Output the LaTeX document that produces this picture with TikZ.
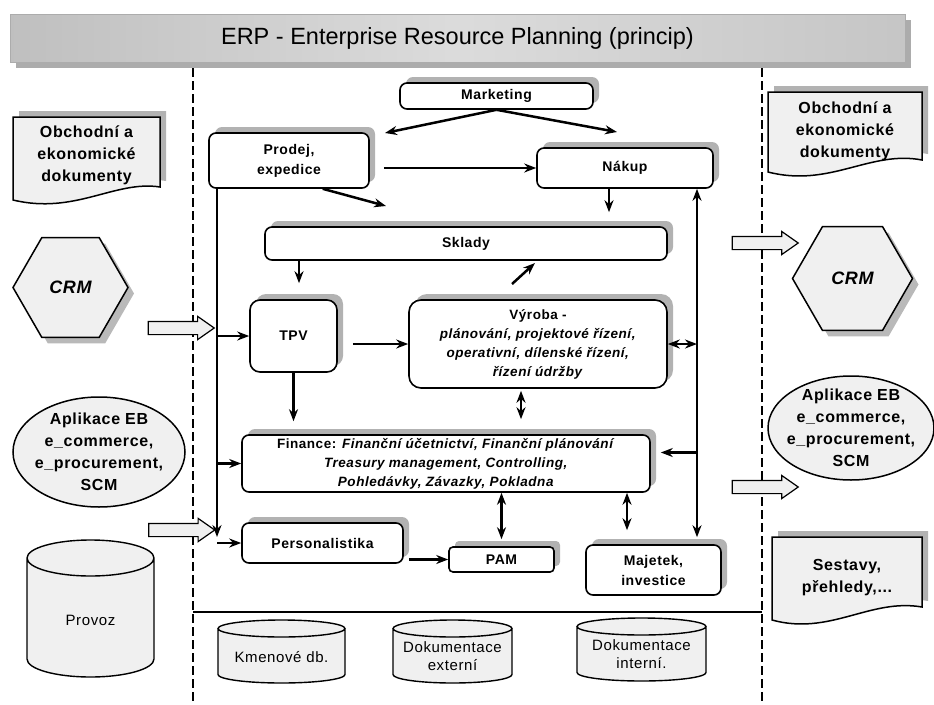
\documentclass[tikz,border=0pt]{standalone}
\usepackage{fontspec}
\setmainfont{Liberation Sans}[LetterSpace=4]
\newfontfamily\titlefont{Liberation Sans}
\usepackage{tikz}
\usetikzlibrary{arrows.meta,
                calc,
                shadows,
                shapes.arrows,
                shapes.geometric}

\tikzset{
  box/.style={draw, line width=1.6pt, rounded corners=7pt, fill=white,
    drop shadow={shadow xshift=6pt, shadow yshift=6pt, fill=gray!60, opacity=1},
    align=center, inner sep=2pt, font=\fontsize{14}{20}\selectfont\bfseries},
  itbox/.style={box, font=\fontsize{13.5}{19}\selectfont\bfseries},
  sidetext/.style={align=center, font=\fontsize{16}{22}\selectfont\bfseries},
  sidedoc/.style={draw, line width=1.5pt, fill=gray!12,
    drop shadow={shadow xshift=6pt, shadow yshift=6pt, fill=gray!60, opacity=1}},
  sideell/.style={ellipse, draw, line width=1.5pt, fill=gray!12, inner sep=0pt},
  hexa/.style={regular polygon, regular polygon sides=6,
    draw, line width=1.5pt, fill=gray!12, inner sep=0pt,
    drop shadow={shadow xshift=6pt, shadow yshift=-6pt, fill=gray!55, opacity=1},
    font=\fontsize{18}{20}\selectfont\bfseries\itshape},
  harrow/.style={single arrow, draw, line width=1.2pt, fill=gray!12, inner sep=0pt,
    text height=12pt, text depth=0pt, minimum height=66pt,
    single arrow head extend=5pt, single arrow tip angle=70},
  cylbody/.style={draw, line width=1.4pt, fill=gray!12},
  cyltext/.style={align=center, font=\fontsize{15}{18}\selectfont},
  arr/.style={-{Stealth[length=12pt,width=9pt]}, line width=2.5pt},
  dbl/.style={{Stealth[length=12pt,width=9pt]}-{Stealth[length=12pt,width=9pt]}, line width=2.5pt},
  sep/.style={line width=2.6pt, dash pattern=on 9pt off 4pt}
}

\begin{document}
\begin{tikzpicture}[x=1pt,y=-1pt]
\useasboundingbox (0,0) rectangle (934,704);

% title
\node[draw=gray!65, left color=gray!50, right color=gray!45, middle color=gray!28,
      drop shadow={shadow xshift=6pt, shadow yshift=-6pt, fill=gray!65, opacity=1},
      minimum width=895pt, minimum height=48pt,
      font=\titlefont\fontsize{23.5}{26}\selectfont] (title) at (457.5,38)
      {ERP - Enterprise Resource Planning (princip)};

% separators
\draw[sep] (193,68) -- (193,704);
\draw[sep] (762,68) -- (762,704);
\draw[line width=1.6pt] (193,612) -- (762,612);

% left side
\draw[sidedoc] (13,117) -- (160,117) -- (160,187)
  .. controls (115,180) and (75,215) .. (13,200) -- cycle;
\node[sidetext] (docL) at (86.5,155) {Obchodní a\\ekonomické\\dokumenty};
\node[hexa, minimum size=115pt] (crmL) at (70.5,287.5) {CRM};
\node[harrow] (inL1) at (176.5,328) {};
\node[sideell, minimum width=172pt, minimum height=110pt,
      label={[sidetext]center:{Aplikace EB\\e\_commerce,\\e\_procurement,\\SCM}}] (ebL) at (99,452) {};
\node[harrow] (inL2) at (177,530) {};

% right side
\draw[sidedoc] (768,92) -- (922,92) -- (922,160)
  .. controls (870,150) and (830,188) .. (768,172) -- cycle;
\node[sidetext] (docR) at (845,131.5) {Obchodní a\\ekonomické\\dokumenty};
\node[harrow] (outR1) at (760.5,243) {};
\node[hexa, minimum size=120pt] (crmR) at (852.5,278.5) {CRM};
\node[sideell, minimum width=166pt, minimum height=104pt,
      label={[sidetext]center:{Aplikace EB\\e\_commerce,\\e\_procurement,\\SCM}}] (ebR) at (851,428) {};
\node[harrow] (outR2) at (760.5,487) {};
\draw[sidedoc] (772,537) -- (922,537) -- (922,607)
  .. controls (870,598) and (830,636) .. (772,620) -- cycle;
\node[sidetext] (sestavy) at (847,578) {Sestavy,\\přehledy,...};

% databases
\foreach \cx/\tp/\bt/\r/\ry in {90.5/540/677/63.5/18, 281.5/620/683/63.5/8.5,
                                452.5/620/683/59.5/8.5, 641.5/618/681/64.5/8.5}
  \draw[cylbody] (\cx-\r,\tp+\ry) -- (\cx-\r,\bt-\ry)
    arc[start angle=180, end angle=360, x radius=\r pt, y radius=\ry pt]
    -- (\cx+\r,\tp+\ry)
    arc[start angle=0, end angle=180, x radius=\r pt, y radius=\ry pt] -- cycle
    (\cx,\tp+\ry) ellipse[x radius=\r pt, y radius=\ry pt];
\node[cyltext] (provoz) at (90.5,620) {Provoz};
\node[cyltext] (kmen) at (281.5,657) {Kmenové db.};
\node[cyltext] (dokext) at (452.5,656) {Dokumentace\\externí};
\node[cyltext] (dokint) at (641.5,654) {Dokumentace\\interní.};

% ERP modules
\node[box, minimum width=193pt, minimum height=26pt] (mkt) at (496.5,96) {Marketing};
\node[box, minimum width=160pt, minimum height=55pt] (prodej) at (289,160.5) {Prodej,\\expedice};
\node[box, minimum width=176pt, minimum height=40pt] (nakup) at (625,168) {Nákup};
\node[box, minimum width=402pt, minimum height=33pt] (sklady) at (466,243.5) {Sklady};
\node[box, rounded corners=10pt, minimum width=87pt, minimum height=72pt] (tpv) at (293.5,336) {TPV};
\node[itbox, rounded corners=12pt, minimum width=258pt, minimum height=88pt] (vyroba) at (538,344)
  {Výroba -\\\textit{plánování, projektové řízení,}\\\textit{operativní, dílenské řízení,}\\\textit{řízení údržby}};
\node[itbox, minimum width=408pt, minimum height=57pt] (finance) at (446,463.5)
  {Finance: \textit{Finanční účetnictví, Finanční plánování}\\\textit{Treasury management, Controlling,}\\\textit{Pohledávky, Závazky, Pokladna}};
\node[box, minimum width=161pt, minimum height=40pt] (personal) at (322.5,543) {Personalistika};
\node[box, rounded corners=4pt, minimum width=105pt, minimum height=25pt] (pam) at (501.5,559.5) {PAM};
\node[box, minimum width=135pt, minimum height=50pt] (majetek) at (653.5,570) {Majetek,\\investice};

% free ends and bus lines
\coordinate (mktL) at (385,133);
\coordinate (mktR) at (617,132);
\coordinate (prodS) at (386,206);
\coordinate (nakX) at (609,0);
\coordinate (skX) at (299,0);
\coordinate (vyUp) at (512,284);
\coordinate (skIn) at (535,263);
\coordinate (vfX) at (521,0);
\coordinate (fmX) at (627,0);
\coordinate (lbus) at (217,0);
\coordinate (rbus) at (697,0);
\coordinate (finR) at ([yshift=11pt]finance.east);

% connectors
\draw[arr] (mkt.south) -- (mktL);
\draw[arr] (mkt.south) -- (mktR);
\draw[arr, shorten <=14pt] (prodej.east |- nakup.west) -- (nakup.west);
\draw[arr] (prodej.-40) -- (prodS);
\draw[arr, shorten >=14pt] (nakX |- nakup.south) -- (nakX |- sklady.north);
\draw[arr, shorten >=16pt] (skX |- sklady.south) -- (skX |- tpv.north);
\draw[arr] (vyUp) -- (skIn);
\draw[arr, shorten <=15pt] (tpv.east |- vyroba.west) -- (vyroba.west);
\draw[arr, shorten >=13pt] (tpv.south) -- (tpv.south |- finance.north);
\draw[dbl, shorten <=2pt, shorten >=15pt] (vfX |- vyroba.south) -- (vfX |- finance.north);

\draw[arr, shorten >=6pt] (lbus |- prodej.south) -- (lbus |- personal.west);
\foreach \m in {tpv, finance, personal}
  \draw[arr] (lbus |- \m.west) -- (\m.west);

\draw[dbl, shorten <=7pt] (rbus |- majetek.north) -- (rbus |- nakup.south);
\draw[dbl] (vyroba.east) -- (rbus |- vyroba.east);
\draw[arr, shorten >=10pt] (rbus |- finR) -- (finR);

\draw[dbl, shorten >=7pt] (finance.south -| pam.north) -- (pam.north);
\draw[dbl, shorten >=14pt] (fmX |- finance.south) -- (fmX |- majetek.north);
\draw[arr, shorten <=5pt] (personal.east |- pam.west) -- (pam.west);
\end{tikzpicture}
\end{document}
